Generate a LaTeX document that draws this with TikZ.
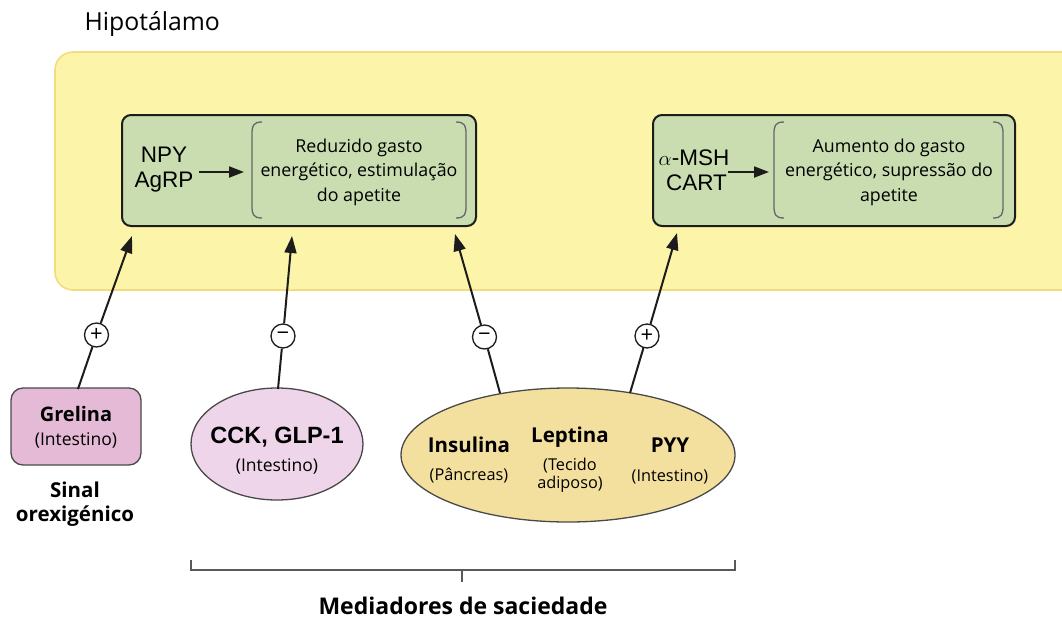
\documentclass[tikz,border=0pt]{standalone}
\usepackage{fontspec}
\setmainfont{Open Sans}
\newfontfamily\arialf{Liberation Sans}
\usetikzlibrary{arrows.meta,shapes.geometric}
\definecolor{hypfill}{HTML}{FCF4A8}
\definecolor{hypdraw}{HTML}{F1DD7C}
\definecolor{grfill}{HTML}{C9DDB0}
\definecolor{grelfill}{HTML}{E4BAD6}
\definecolor{cckfill}{HTML}{EFD5E9}
\definecolor{satfill}{HTML}{F4E09E}
\definecolor{dk}{HTML}{1C1C1C}
\tikzset{
  greenbox/.style={draw=dk, line width=2pt, fill=grfill, rounded corners=9pt, inner sep=0pt},
  sign/.style={circle, draw=dk, line width=1.3pt, fill=white, minimum size=24pt, inner sep=0pt, font=\fontsize{22}{22}\selectfont},
  conn/.style={draw=dk, line width=2pt},
  arr/.style={conn, -{Triangle[length=17pt,width=12pt]}},
  brk/.style={draw=black!60, line width=1.3pt},
  body/.style={align=center, font=\fontsize{17.8}{24.5}\selectfont},
  lbl/.style={align=center, font=\fontsize{17.5}{18}\selectfont},
  sublbl/.style={align=center, font=\fontsize{16.3}{18}\selectfont},
  bold/.style={align=center, font=\fontsize{20.5}{24}\selectfont\bfseries},
  arialtxt/.style={align=center, font=\arialf\fontsize{22.5}{25}\selectfont},
}
\begin{document}
\begin{tikzpicture}[x=1pt,y=-1pt]
\useasboundingbox (0,0) rectangle (1062,619);
% hypothalamus region
\path[fill=hypfill, draw=hypdraw, line width=1.6pt, rounded corners=18pt] (55,52) rectangle (1090,290);
\node[anchor=west, font=\fontsize{24.8}{24}\selectfont] (hipo) at (81,24) {Hipotálamo};
% left green box
\node[greenbox, minimum width=354pt, minimum height=111pt] (L) at (299,170.5) {};
\node[arialtxt] (npy) at (164,170) {NPY\\AgRP};
\coordinate (la) at (199,172);
\coordinate (lb) at (244,172);
\draw[conn, -{Triangle[length=15pt,width=11pt]}] (la) -- (lb);
\draw[brk] (262,122) .. controls (253,122) and (252,126) .. (252,134) -- (252,206) .. controls (252,214) and (253,218) .. (262,218);
\draw[brk] (456,122) .. controls (465,122) and (466,126) .. (466,134) -- (466,206) .. controls (466,214) and (465,218) .. (456,218);
\node[body] (ltext) at (359,172) {Reduzido gasto\\energético, estimulação\\do apetite};
% right green box
\node[greenbox, minimum width=362pt, minimum height=111pt] (R) at (834,170.5) {};
\node[arialtxt] (msh) at (694,170) {$\alpha$-MSH\\\hspace*{5pt}CART};
\coordinate (ra) at (728,172);
\coordinate (rb) at (769,172);
\draw[conn, -{Triangle[length=15pt,width=11pt]}] (ra) -- (rb);
\draw[brk] (784,122) .. controls (775,122) and (774,126) .. (774,134) -- (774,206) .. controls (774,214) and (775,218) .. (784,218);
\draw[brk] (993,122) .. controls (1002,122) and (1003,126) .. (1003,134) -- (1003,206) .. controls (1003,214) and (1002,218) .. (993,218);
\node[body] (rtext) at (889,172) {Aumento do gasto\\energético, supressão do\\apetite};
% Grelina
\node[draw=dk!80, line width=1.3pt, fill=grelfill, rounded corners=12pt, minimum width=130pt, minimum height=77pt] (grel) at (76,426.5) {};
\node[bold, font=\fontsize{20}{22}\selectfont\bfseries] (greltit) at (76,414) {Grelina};
\node[lbl] (grelsub) at (76,440) {(Intestino)};
\node[bold] (sinal) at (75,504) {Sinal\\orexigénico};
% CCK ellipse
\node[ellipse, draw=dk!80, line width=1.3pt, fill=cckfill, minimum width=172pt, minimum height=112pt] (cck) at (277,444) {};
\node[font=\arialf\fontsize{23.5}{24}\selectfont\bfseries] (ccktit) at (277,437) {CCK, GLP-1};
\node[lbl] (ccksub) at (277,466) {(Intestino)};
% satiety ellipse
\node[ellipse, draw=dk!80, line width=1.3pt, fill=satfill, minimum width=334pt, minimum height=134pt] (sat) at (568,455) {};
\node[bold] (ins) at (469,445) {Insulina};
\node[sublbl] (insub) at (469,476) {(Pâncreas)};
\node[bold] (lep) at (570,437) {Leptina};
\node[sublbl] (lepsub) at (570,475) {(Tecido\\adiposo)};
\node[bold] (pyy) at (670,445) {PYY};
\node[sublbl] (pyysub) at (670,477) {(Intestino)};
% connectors
\coordinate (g1) at (78,389);
\coordinate (t1) at (132,236);
\node[sign] (s1) at (96.5,335) {+};
\draw[conn] (g1) -- (s1);
\draw[arr] (s1) -- (t1);
\coordinate (g2) at (278,389);
\coordinate (t2) at (292,236);
\node[sign] (s2) at (283,336) {−};
\draw[conn] (g2) -- (s2);
\draw[arr] (s2) -- (t2);
\coordinate (g3) at (500,393);
\coordinate (t3) at (455,234);
\node[sign] (s3) at (484.5,337) {−};
\draw[conn] (g3) -- (s3);
\draw[arr] (s3) -- (t3);
\coordinate (g4) at (630,393);
\coordinate (t4) at (677,233);
\node[sign] (s4) at (647,336) {+};
\draw[conn] (g4) -- (s4);
\draw[arr] (s4) -- (t4);
% bracket
\coordinate (b1) at (191,560);
\coordinate (b2) at (735,560);
\coordinate (bm) at (462,582);
\draw[draw=black!65, line width=1.3pt] (b1) -- (191,570) -- (735,570) -- (b2);
\draw[draw=black!65, line width=1.3pt] (462,570) -- (bm);
\node[bold, inner sep=0pt, font=\fontsize{23}{24}\selectfont\bfseries] (med) at (463,606) {Mediadores de saciedade};
\end{tikzpicture}
\end{document}
